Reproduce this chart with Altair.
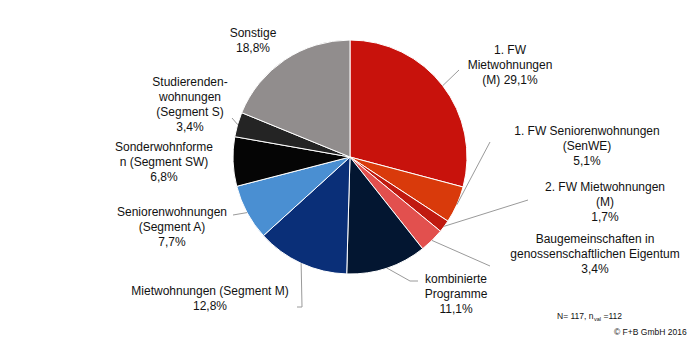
import math
import altair as alt
import pandas as pd

# ---------------- data ----------------
categories = [
    "1. FW Mietwohnungen (M)",
    "1. FW Seniorenwohnungen (SenWE)",
    "2. FW Mietwohnungen (M)",
    "Baugemeinschaften in genossenschaftlichen Eigentum",
    "kombinierte Programme",
    "Mietwohnungen (Segment M)",
    "Seniorenwohnungen (Segment A)",
    "Sonderwohnformen (Segment SW)",
    "Studierendenwohnungen (Segment S)",
    "Sonstige",
]
shares = [29.1, 5.1, 1.7, 3.4, 11.1, 12.8, 7.7, 6.8, 3.4, 18.8]
label_names = [
    "1. FW\nMietwohnungen\n(M)",
    "1. FW Seniorenwohnungen\n(SenWE)",
    "2. FW Mietwohnungen\n(M)",
    "Baugemeinschaften in\ngenossenschaftlichen Eigentum",
    "kombinierte\nProgramme",
    "Mietwohnungen (Segment M)",
    "Seniorenwohnungen\n(Segment A)",
    "Sonderwohnforme\nn (Segment SW)",
    "Studierenden-\nwohnungen\n(Segment S)",
    "Sonstige",
]
label_joiners = [" ", "\n", "\n", "\n", "\n", "\n", "\n", "\n", "\n", "\n"]
footnote_n = ["N= 117, n", "val", "=112"]
footnote_copy = "\u00a9 F+B GmbH 2016"

# ---------------- styles / layout ----------------
colors = ["#C8120C", "#D93A0B", "#C01A10", "#E2504E", "#031631",
          "#0A2F78", "#4A8FD2", "#050505", "#242424", "#918D8D"]
FONT = "Liberation Sans"
TXT = "#111111"
CX, CY, R = 350, 157, 117
# label anchor: centre x, top of first line
label_pos = [(510, 45), (587, 126), (605, 182), (595, 234), (456, 274),
             (210, 286), (172, 207), (164, 142), (190, 77), (253, 28)]
# leader line points after the start point on the pie edge
leader_pts = [
    [(459, 70)],
    [(490, 142)],
    [(528, 200)],
    [(490, 266)],
    [(410, 281), (418, 281)],
    [(302, 307), (297, 307)],
    [(233, 215)],
    [],
    [(232, 118)],
    [],
]


def fmt(v):
    return f"{v:.1f}".replace(".", ",") + "%"


df = pd.DataFrame({
    "cat": categories,
    "value": shares,
    "idx": list(range(len(categories))),
})

labels_df = pd.DataFrame({
    "cat": categories,
    "text": [n + j + fmt(v) for n, j, v in zip(label_names, label_joiners, shares)],
    "lx": [p[0] for p in label_pos],
    "ly": [p[1] for p in label_pos],
})

# leader lines start at the middle of each slice's outer edge
total = sum(shares)
rows = []
cum = 0.0
for i, v in enumerate(shares):
    mid = (cum + v / 2) / total * 2 * math.pi
    cum += v
    if not leader_pts[i]:
        continue
    sx = CX + R * math.sin(mid)
    sy = CY - R * math.cos(mid)
    pts = [(sx, sy)] + leader_pts[i]
    for k, (px, py) in enumerate(pts):
        rows.append({"cat": categories[i], "k": k, "px": px, "py": py})
lines_df = pd.DataFrame(rows)

pie = alt.Chart(df).mark_arc(outerRadius=R, stroke="white", strokeWidth=1).encode(
    theta=alt.Theta("value:Q", stack=True),
    color=alt.Color("cat:N", scale=alt.Scale(domain=categories, range=colors), legend=None),
    order=alt.Order("idx:Q"),
    x=alt.value(CX),
    y=alt.value(CY),
)

leaders = alt.Chart(lines_df).mark_line(color="#9a9a9a", strokeWidth=1).encode(
    x=alt.X("px:Q", scale=None),
    y=alt.Y("py:Q", scale=None),
    detail="cat:N",
    order="k:Q",
)

labels = alt.Chart(labels_df).mark_text(
    font=FONT, fontSize=12, color=TXT, align="center", baseline="top",
    lineBreak="\n", lineHeight=15,
).encode(
    x=alt.X("lx:Q", scale=None),
    y=alt.Y("ly:Q", scale=None),
    text="text:N",
)

# footnote: main part right-aligned so the subscript follows it directly
fn_main = alt.Chart(pd.DataFrame({"t": [footnote_n[0]]})).mark_text(
    font=FONT, fontSize=8.5, color=TXT, align="right", baseline="alphabetic"
).encode(x=alt.value(593.5), y=alt.value(318.5), text="t:N")
fn_sub = alt.Chart(pd.DataFrame({"t": [footnote_n[1]]})).mark_text(
    font=FONT, fontSize=5.5, color=TXT, align="left", baseline="alphabetic"
).encode(x=alt.value(594), y=alt.value(320.5), text="t:N")
fn_end = alt.Chart(pd.DataFrame({"t": [footnote_n[2]]})).mark_text(
    font=FONT, fontSize=8.5, color=TXT, align="left", baseline="alphabetic"
).encode(x=alt.value(603.5), y=alt.value(318.5), text="t:N")
foot2 = alt.Chart(pd.DataFrame({"t": [footnote_copy]})).mark_text(
    font=FONT, fontSize=8.5, color=TXT, align="left", baseline="alphabetic"
).encode(x=alt.value(614), y=alt.value(334.5), text="t:N")

chart = alt.layer(pie, leaders, labels, fn_main, fn_sub, fn_end, foot2).properties(
    width=700, height=357, padding=0, autosize=alt.AutoSizeParams(type="none"),
    background="white",
).configure_view(stroke=None)

chart.save("out.html", embed_options={"renderer": "svg", "actions": False})
